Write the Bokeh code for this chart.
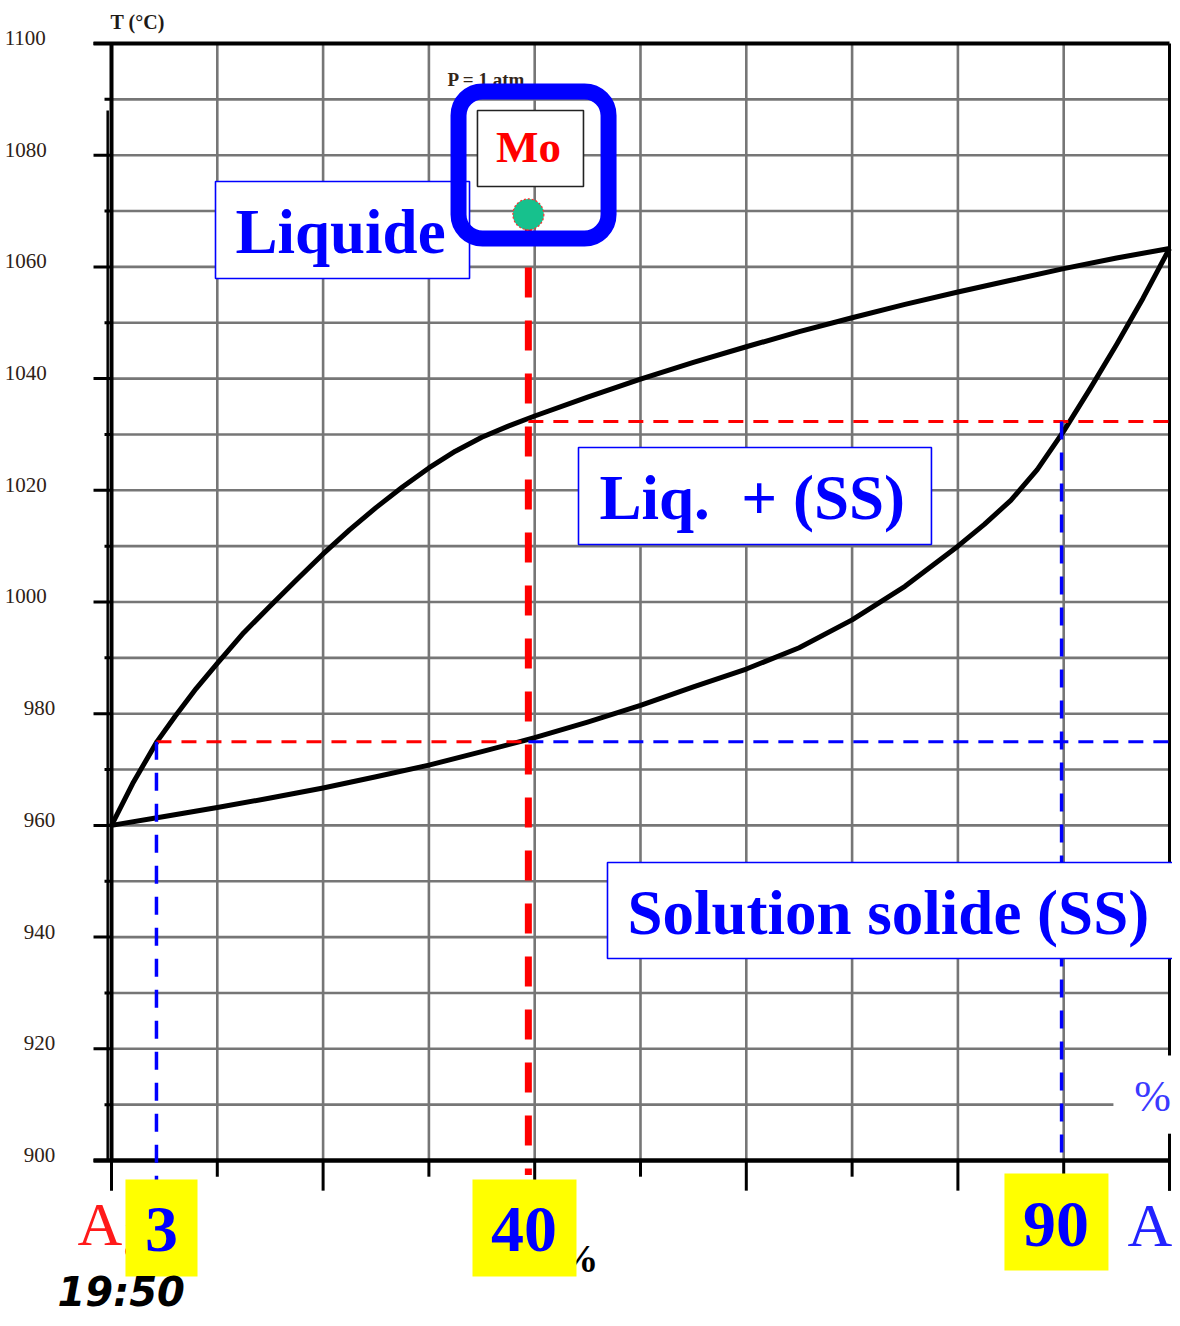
from bokeh.plotting import figure
from bokeh.models import Range1d
from bokeh.embed import file_html
from bokeh.resources import INLINE
from bokeh.core.properties import value

# ---------------- data (x: % Au, T: degC) ----------------
liquidus_x = [0, 2, 4.3, 6, 8, 10, 12.5, 15, 17.5, 20, 22.5, 25, 27.5, 30, 32.5, 35,
              37.5, 40, 45, 50, 55, 60, 65, 70, 75, 80, 85, 90, 95, 100]
liquidus_T = [960, 967.5, 975, 979.5, 984.5, 989, 994.5, 999.3, 1004.0, 1008.6,
              1012.9, 1016.9, 1020.6, 1024.0, 1027.0, 1029.5, 1031.5, 1033.3, 1036.7,
              1039.9, 1042.9, 1045.7, 1048.4, 1050.9, 1053.3, 1055.5, 1057.6, 1059.7,
              1061.6, 1063.3]

solidus_x = [0, 5, 10, 15, 20, 25, 30, 35, 40, 45, 50, 55, 60, 65, 70, 75, 80,
             82.5, 85, 87.5, 90, 92.5, 95, 97.5, 100]
solidus_T = [960, 961.6, 963.2, 964.9, 966.7, 968.7, 970.8, 973.2, 975.7, 978.5, 981.5,
             984.8, 988.0, 991.8, 996.8, 1002.8, 1010.0, 1013.9, 1018.2, 1023.7, 1030.6,
             1038.2, 1046.1, 1054.4, 1063.3]

y_major = [900, 920, 940, 960, 980, 1000, 1020, 1040, 1060, 1080, 1100]
y_labels = ["900", "920", "940", "960", "980", "1000", "1020", "1040", "1060", "1080", "1100"]
y_minor = [910, 930, 950, 970, 990, 1010, 1030, 1050, 1070, 1090]
grid_T = [910, 920, 930, 940, 950, 960, 970, 980, 990, 1000,
          1010, 1020, 1030, 1040, 1050, 1060, 1070, 1080, 1090]
grid_x = [10, 20, 30, 40, 50, 60, 70, 80, 90]
x_major_ticks = [0, 20, 40, 60, 80, 100]
x_minor_ticks = [10, 30, 50, 70, 90]

x_liq_975 = 4.25     # liquid composition at 975 degC
x_alloy = 39.4       # alloy composition
x_sol_1032 = 89.8    # solid composition at liquidus temperature of alloy
T_sol_alloy = 975.0
T_liq_alloy = 1032.3
T_Mo = 1069.4
comp_labels = ["3", "40", "90"]
region_names = ["Liquide", "Liq.\u00a0 + (SS)", "Solution solide (SS)"]

# ---------------- figure ----------------
W, H = 1172, 1318
PX_PCT, PX_DEG = 10.58, 5.585
x0_px, y1100_px = 111, 43
p = figure(width=W, height=H, output_backend="svg", toolbar_location=None,
           x_range=Range1d(-x0_px / PX_PCT, (W - x0_px) / PX_PCT),
           y_range=Range1d(1100 - (H - y1100_px) / PX_DEG, 1100 + y1100_px / PX_DEG),
           x_axis_type=None, y_axis_type=None, min_border=0)
p.outline_line_color = None
p.background_fill_color = "white"
p.border_fill_color = "white"

SERIF = value("Liberation Serif")


def label(x, y, s, size, color, style="normal", align="left", baseline="middle",
          font=SERIF):
    p.text(x=[x], y=[y], text=[s], text_font=font, text_font_size=value(f"{size}px"),
           text_font_style=style, text_color=color, text_align=align,
           text_baseline=baseline)


# grid
GRID = "#767676"
p.segment(x0=[0] * len(grid_T), y0=grid_T,
          x1=[94.7 if t == 910 else 100 for t in grid_T], y1=grid_T,
          line_color=GRID, line_width=2.6)
p.segment(x0=grid_x, y0=[900] * len(grid_x), x1=grid_x, y1=[1100] * len(grid_x),
          line_color=GRID, line_width=2.6)

# frame / axes
p.line([-1.7, 100], [1100, 1100], line_color="black", line_width=4)
p.line([-1.7, 100], [900, 900], line_color="black", line_width=4.5)
p.line([0, 0], [900, 1100], line_color="black", line_width=4)
p.line([-0.36, -0.36], [900, 1088], line_color="black", line_width=2.5)
p.line([100, 100], [918.8, 1100], line_color="black", line_width=3)
p.line([100, 100], [894.6, 904.8], line_color="black", line_width=3)
p.segment(x0=[-1.7] * len(y_major), y0=y_major, x1=[0] * len(y_major), y1=y_major,
          line_color="black", line_width=3)
p.segment(x0=[-0.66] * len(y_minor), y0=y_minor, x1=[0] * len(y_minor), y1=y_minor,
          line_color="black", line_width=3)
p.segment(x0=x_major_ticks, y0=[900] * len(x_major_ticks), x1=x_major_ticks,
          y1=[894.6] * len(x_major_ticks), line_color="black", line_width=3)
p.segment(x0=x_minor_ticks, y0=[900] * len(x_minor_ticks), x1=x_minor_ticks,
          y1=[897.1] * len(x_minor_ticks), line_color="black", line_width=3)

# tick labels and axis title
p.text(x=[-10.1 if len(s) == 4 else -8.3 for s in y_labels],
       y=[t + 1.0 for t in y_major], text=y_labels, text_font=SERIF,
       text_font_size=value("21px"), text_color="#2e2216", text_align="left",
       text_baseline="middle")
label(-0.09, 1103.8, "T (\u00b0C)", 20, "#1e1a16", style="bold")

# curves
p.line(liquidus_x, liquidus_T, line_color="black", line_width=5, line_join="round")
p.line(solidus_x, solidus_T, line_color="black", line_width=5, line_join="round")

# construction lines
p.line([x_liq_975, x_alloy], [T_sol_alloy, T_sol_alloy], line_color="#ff0000",
       line_width=3, line_dash="15 10")
p.line([x_alloy, 102], [T_sol_alloy, T_sol_alloy], line_color="#0000ff",
       line_width=3, line_dash="15 10")
p.line([x_alloy, 102], [T_liq_alloy, T_liq_alloy], line_color="#ff0000",
       line_width=3, line_dash="15 10")
p.line([x_liq_975, x_liq_975], [T_sol_alloy, 896.4], line_color="#0000ff",
       line_width=3.5, line_dash="18 13")
p.line([x_sol_1032, x_sol_1032], [T_liq_alloy, 899.6], line_color="#0000ff",
       line_width=3.5, line_dash="18 13")
p.line([x_alloy, x_alloy], [T_Mo, 897.4], line_color="#ff0000", line_width=7,
       line_dash="30 23")

# region boxes
BLUE = "#0000ff"
p.quad(left=[9.83, 44.14, 46.88], right=[33.84, 77.50, 102.0],
       top=[1075.29, 1027.66, 953.36], bottom=[1057.92, 1010.29, 936.17],
       fill_color="white", line_color=BLUE, line_width=1.6)
p.text(x=[11.72, 46.12, 48.77], y=[1066.3, 1018.67, 944.37], text=region_names,
       text_font=SERIF, text_font_size=value("63px"), text_font_style="bold",
       text_color=BLUE, text_align="left", text_baseline="middle")

# point Mo
label(31.76, 1093.6, "P = 1 atm", 19, "#33261a", style="bold")
p.quad(left=[34.59], right=[44.61], top=[1088.0], bottom=[1074.4],
       fill_color="white", line_color="#222222", line_width=1.6)
label(39.41, 1081.4, "Mo", 45, "#ff0000", style="bold", align="center")
p.quad(left=[32.80], right=[46.98], top=[1091.41], bottom=[1065.08],
       fill_color=None, line_color=BLUE, line_width=16, border_radius=24)
p.scatter(x=[x_alloy], y=[T_Mo], size=31, fill_color="#17c18d", line_color="#ff3030",
          line_width=1.2, line_dash="2 2")

# bottom labels
label(42.25, 882.5, "%", 40, "black", style="bold")
label(-3.21, 888.63, "Ag", 62, "#ff1a1a")
label(96.03, 888.45, "Au", 62, "#2222ff")
p.quad(left=[1.32, 34.12, 84.40], right=[8.13, 43.95, 94.23],
       top=[896.60, 896.60, 897.67], bottom=[879.23, 879.23, 880.30],
       fill_color="#ffff00", line_color=None)
p.text(x=[4.73, 38.99, 89.27], y=[887.56, 887.56, 888.63], text=comp_labels,
       text_font=SERIF, text_font_size=value("66px"), text_font_style="bold",
       text_color=BLUE, text_align="center", text_baseline="middle")
label(98.39, 911.46, "%", 44, "#3a3aff", align="center")
label(-5.10, 876.4, "19:50", 40, "black", style="bold italic",
      font=value("DejaVu Sans"))

open("out.html", "w").write(file_html(p, INLINE))
